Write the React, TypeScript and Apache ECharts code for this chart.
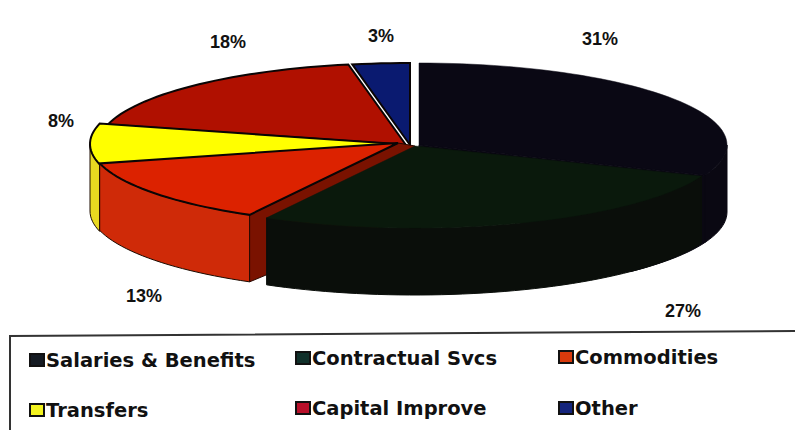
import React, { useEffect, useRef } from "react";
import * as echarts from "echarts";

const categories = ["Salaries & Benefits", "Contractual Svcs", "Commodities", "Transfers", "Capital Improve", "Other"];
const shares = [31, 27, 13, 8, 18, 3];
const topColors = ["#0a0814", "#0a190c", "#dc2200", "#ffff00", "#b01000", "#0a1a70"];
const sideColors = ["#0a0812", "#0a0e0a", "#cf2a08", "#e8d820", "#8a0c00", "#0a1240"];
const legendColors = ["#141a22", "#10302a", "#d83a0c", "#f4f420", "#b8102a", "#14247c"];

// Layout (not data): exploded centre of each wedge, and the pie's projection
const centres = [[419, 145], [415, 146], [398, 143], [398, 144], [406, 145], [410, 145]];
const labelAt = [[600, 39], [683, 311], [144, 296], [61, 121], [228, 42], [381, 36]];
const legendAt = [[29, 350], [295, 348], [558, 347], [29, 400], [295, 398], [558, 398]];
const RX = 308, RY = 82, DEPTH = 67;
// Back-to-front painting order
const paintOrder = [5, 4, 0, 3, 2, 1];

const total = shares.reduce((a, b) => a + b, 0);
const startOf = (i: number) => shares.slice(0, i).reduce((a, b) => a + b, 0) / total * 360;

function point(i: number, deg: number, dy = 0): number[] {
  const r = (deg * Math.PI) / 180;
  const [cx, cy] = centres[i];
  return [cx + RX * Math.sin(r), cy - RY * Math.cos(r) + dy];
}
function arc(i: number, a: number, b: number, dy = 0): number[][] {
  const pts: number[][] = [];
  const n = Math.max(1, Math.ceil((b - a) / 2));
  for (let k = 0; k <= n; k++) pts.push(point(i, a + ((b - a) * k) / n, dy));
  return pts;
}

function wedge(i: number, value: number) {
  const a = startOf(i);
  const b = a + (value / total) * 360;
  const children: any[] = [];
  const frontA = Math.max(a, 90);
  // the first wedge's wall runs on under its neighbour so no gap shows between them
  const frontB = Math.min(i === 0 ? b + 25 : b, 270);
  if (frontB > frontA) {
    children.push({
      type: "polygon",
      shape: { points: [...arc(i, frontA, frontB), ...arc(i, frontA, frontB, DEPTH).reverse()] },
      style: { fill: sideColors[i], stroke: i < 2 ? sideColors[i] : "#1a0a00", lineWidth: 1 },
    });
  }
  // cut wall of the first wedge, closing the seam under its neighbour
  if (i === 0) {
    const [cx, cy] = centres[i];
    children.push({
      type: "polygon",
      shape: { points: [[cx, cy], point(i, b), point(i, b, DEPTH), [cx, cy + DEPTH]] },
      style: { fill: sideColors[i], stroke: sideColors[i], lineWidth: 1 },
    });
  }
  // the cut wall of the commodities wedge, seen beside the next wedge
  if (i === 2) {
    const [cx, cy] = centres[i];
    const [nx, ny] = centres[1];
    children.push({
      type: "polygon",
      shape: { points: [[cx, cy], [nx, ny], [nx, ny + DEPTH], point(i, a, DEPTH), point(i, a)] },
      style: { fill: "#7a1200", stroke: "#2a0800", lineWidth: 1 },
    });
  }
  children.push({
    type: "polygon",
    shape: { points: [centres[i], ...arc(i, a, b)] },
    style: { fill: topColors[i], stroke: i < 2 ? topColors[i] : "#0a0505", lineWidth: i < 2 ? 0.5 : 2 },
  });
  return { type: "group", children };
}

export default function App() {
  const ref = useRef<HTMLDivElement>(null);
  useEffect(() => {
    const chart = echarts.init(ref.current!, null, { renderer: "svg" });
    chart.setOption({
      animation: false,
      backgroundColor: "#fff",
      legend: categories.map((name, i) => ({
        data: [name],
        left: legendAt[i][0],
        top: legendAt[i][1],
        padding: 0,
        itemWidth: 14,
        itemHeight: 12,
        icon: "rect",
        itemStyle: { color: legendColors[i], borderColor: "#111", borderWidth: 2 },
        textStyle: { fontFamily: "DejaVu Sans", fontWeight: "bold", fontSize: 19.5, color: "#111", padding: [0, 0, 0, -3] },
        selectedMode: false,
      })),
      graphic: [
        {
          type: "polyline",
          shape: { points: [[10, 430], [10, 336], [795, 331]] },
          style: { fill: "none", stroke: "#333", lineWidth: 2 },
        },
        ...shares.map((v, i) => ({
          type: "text",
          x: labelAt[i][0],
          y: labelAt[i][1],
          style: {
            text: `${v}%`,
            fontFamily: "Liberation Sans",
            fontWeight: "bold",
            fontSize: 18,
            fill: "#111",
            align: "center",
            verticalAlign: "middle",
          },
        })),
      ],
      series: paintOrder.map((i, order) => ({
        type: "custom",
        name: categories[i],
        coordinateSystem: "none",
        z: 2 + order,
        itemStyle: { color: legendColors[i] },
        data: [shares[i]],
        renderItem: (_p: any, api: any) => wedge(i, api.value(0)),
      })),
    });
    return () => chart.dispose();
  }, []);
  return <div ref={ref} style={{ width: 795, height: 430, position: "absolute", left: 0, top: 0 }} />;
}
